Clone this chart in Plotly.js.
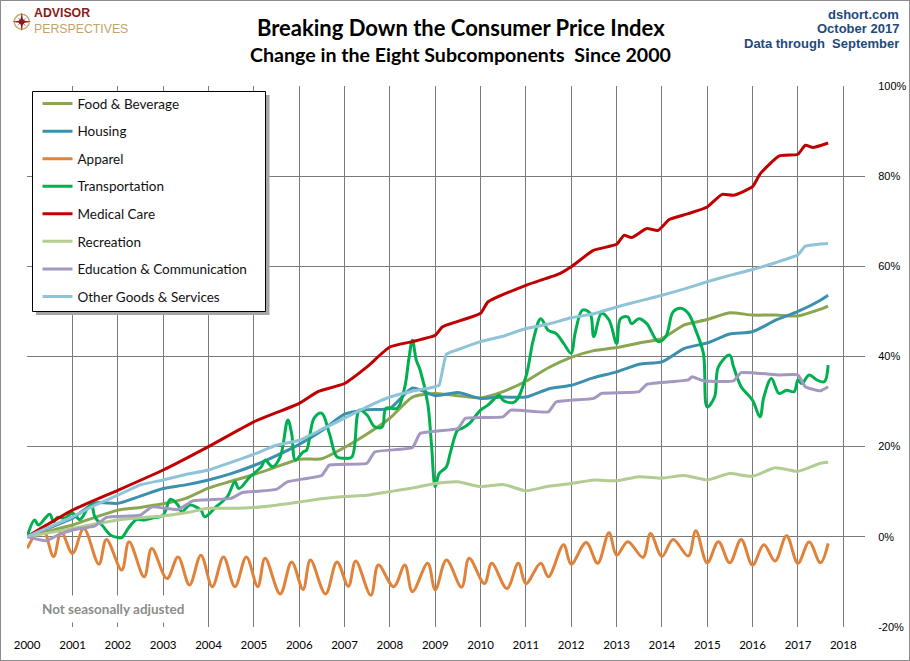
<!DOCTYPE html>
<html><head><meta charset="utf-8">
<script src="https://cdn.plot.ly/plotly-3.0.1.min.js"></script>
<style>
html,body{margin:0;padding:0;background:#fff;}
#chart{width:910px;height:661px;}
#frame{position:absolute;left:0;top:0;width:910px;height:661px;box-sizing:border-box;border:1px solid #8c8c8c;pointer-events:none;}
</style>
</head><body>
<div id="chart"></div><div id="frame"></div>
<script>
// ---------------- DATA ----------------
// month index: 0 = Jan 2000, 212 = Sep 2017 ; values = % change since 2000
const seriesNames = ['Food & Beverage','Housing','Apparel','Transportation','Medical Care','Recreation','Education & Communication','Other Goods & Services'];

const halfYearMonths = [0,6,12,18,24,30,36,42,48,54,60,66,72,78,84,90,96,102,108,114,120,126,132,138,144,150,156,162,168,174,180,186,192,198,204,210,212];

const foodValues = [0,1.3,2.6,4.3,5.9,6.5,7.3,8.5,10.8,12.3,13.8,15.5,17.2,17.3,19.8,22.8,26.3,31.0,31.8,31.3,30.8,32.2,34.5,37.5,39.8,41.3,42.0,43.0,44.0,47.0,48.2,49.7,49.2,49.2,49.0,50.5,51.2];

const housingValues = [0,2.0,4.1,7.5,7.4,9.0,10.7,11.5,12.6,14.0,15.8,18.0,20.5,23.5,27.2,28.2,28.5,33.0,31.3,32.0,30.7,31.0,31.0,32.8,33.6,35.3,36.6,38.3,38.8,41.8,43.0,45.0,45.5,48.0,50.0,52.5,53.6];

const apparelMonths = [0,4,7,9,12,15,19,21,25,27,31,33,37,40,43,46,49,52,55,58,61,63,67,70,73,75,79,82,85,87,91,93,97,100,102,106,108,111,115,117,121,123,127,130,132,136,138,142,144,148,151,154,156,159,163,165,168,171,175,177,180,183,186,189,192,195,198,201,204,207,210,212];
const apparelValues = [-2.6,2.0,-4.4,1.1,-3.7,1.8,-6.1,-0.6,-7.4,-1.1,-8.9,-2.6,-9.3,-4.5,-10.7,-4.1,-11.1,-4.5,-11.1,-4.5,-11.1,-4.8,-12.7,-5.6,-11.7,-5.2,-12.7,-5.6,-11.0,-5.4,-13.0,-6.3,-11.1,-6.3,-12.2,-5.9,-11.8,-5.2,-11.2,-4.8,-10.4,-5.9,-11.5,-5.9,-10.4,-5.9,-8.9,-1.8,-6.1,-1.3,-5.9,0.9,-4.1,-1.1,-4.6,0.7,-4.4,-0.6,-4.3,1.3,-5.8,-1.1,-5.8,-0.6,-6.3,-1.8,-5.4,0.2,-5.9,-1.2,-5.8,-1.5];

const transportMonths = [0,2,3,6,7,8,10,12,14,16,17,18,20,22,24,25,27,29,31,33,36,38,40,41,43,46,47,50,53,55,56,59,62,63,65,67,69,70,71,73,74,76,78,80,82,84,86,88,90,92,94,95,98,100,101,102,103,104,106,107,108,109,111,112,114,115,117,120,122,125,126,129,132,134,136,138,140,142,144,145,147,149,150,152,154,156,157,159,160,162,164,167,169,171,173,175,177,179,180,182,183,186,187,189,192,194,195,197,199,201,203,204,205,207,209,211,212];
const transportValues = [0,3.7,2.6,5.0,3.3,4.3,4.1,5.2,3.8,6.3,7.2,4.3,2.4,0.4,-0.2,-0.2,2.1,3.8,3.7,4.1,4.8,8.3,7.0,5.5,7.0,5.9,4.4,6.6,8.9,12.2,10.7,13.3,15.5,17.0,15.5,17.7,25.9,22.9,17.0,18.8,19.2,26.3,27.4,22.9,17.7,17.4,17.7,28.1,27.0,24.4,24.4,28.5,28.5,33.3,39.2,43.6,39.2,37.0,29.6,20.7,11.1,14.0,15.5,18.5,23.7,24.0,25.1,28.1,29.2,31.4,30.3,29.9,35.5,43.6,48.4,45.8,45.1,42.9,40.7,45.1,50.3,49.6,44.4,49.6,48.1,42.9,48.4,48.8,47.3,48.4,47.3,43.3,44.4,49.9,50.7,49.6,45.8,40.7,28.8,31.0,37.7,40.3,37.7,33.3,30.3,26.6,31.0,35.1,31.8,32.5,32.2,34.8,34.0,35.9,34.8,34.4,38.1];

const medicalMonths = [0,12,24,36,48,60,72,77,84,90,96,102,108,110,120,122,132,141,144,150,156,158,160,164,167,170,175,180,184,187,192,194,199,204,206,208,212];
const medicalValues = [0,5.9,10.3,14.8,20.0,25.5,29.6,32.2,34.0,37.7,42.1,43.3,44.7,46.6,49.6,52.1,55.8,58.4,59.9,63.6,64.9,66.9,66.4,68.4,68.0,70.4,71.7,73.2,76.0,75.8,77.7,80.5,84.5,84.9,86.9,86.4,87.4];

const recreationValues = [0,0.9,1.8,2.8,3.7,4.2,4.6,5.3,6.3,6.3,6.5,7.0,7.7,8.4,8.9,9.2,10.0,10.8,11.8,12.2,11.1,11.6,10.2,11.2,11.8,12.6,12.4,13.3,13.0,13.6,12.6,14.0,13.4,15.3,14.5,16.3,16.5];

const educationMonths = [0,5,8,12,18,21,30,33,40,44,54,57,66,69,78,80,90,92,102,104,114,116,126,128,138,140,150,152,162,164,175,176,179,187,189,199,204,206,210,212];
const educationValues = [0,-0.9,0.3,1.5,2.4,4.3,4.8,6.6,6.0,8.0,8.5,9.8,10.5,12.2,13.6,15.9,16.3,18.8,19.8,22.9,24.0,26.3,26.6,28.1,27.7,29.9,30.7,31.8,32.2,33.8,34.8,35.5,34.6,34.6,36.4,35.9,35.9,33.3,32.4,33.3];

const otherMonths = [0,6,12,18,24,30,36,42,48,54,60,66,72,78,84,90,96,102,108,109,111,114,120,126,132,138,144,150,156,162,168,174,180,186,192,198,204,206,210,212];
const otherValues = [0,2.2,4.4,7.0,9.2,11.5,12.6,13.8,14.8,16.5,18.3,20.3,21.4,23.8,26.3,28.8,31.0,32.3,33.3,33.6,40.5,41.5,43.3,44.5,46.2,47.2,48.6,49.5,51.0,52.3,53.6,55.0,56.6,58.0,59.3,60.8,62.6,64.5,65.0,65.1];

const yearLabels = ['2000','2001','2002','2003','2004','2005','2006','2007','2008','2009','2010','2011','2012','2013','2014','2015','2016','2017','2018'];
const yTickValues = [-20,0,20,40,60,80,100];
const yTickLabels = ['-20%','0%','20%','40%','60%','80%','100%'];

// ---------------- helpers ----------------
function mdate(m){const y=2000+Math.floor(m/12), mo=m%12+1; return y+'-'+(mo<10?'0':'')+mo+'-01';}
const L=27, R=45, T=86, B=34, W=910, H=661;
const PW=W-L-R, PH=H-T-B;
const px=(x)=> (x-L)/PW;
const py=(y)=> (H-B-y)/PH;

const colors = ['#8BA650','#3C90AE','#E1823A','#00B050','#C00000','#B2CC92','#A497C0','#8FC3D7'];
const monthSets = [halfYearMonths, halfYearMonths, apparelMonths, transportMonths, medicalMonths, halfYearMonths, educationMonths, otherMonths];
const valueSets = [foodValues, housingValues, apparelValues, transportValues, medicalValues, recreationValues, educationValues, otherValues];
const smooth = [0.6,0.6,1.0,1.0,0.5,0.6,0.4,0.4];

const traces = seriesNames.map((n,i)=>({
  type:'scatter', mode:'lines', name:n, legendgroup:n,
  x: monthSets[i].map(mdate), y: valueSets[i],
  line:{color:colors[i], width:3, shape:'spline', smoothing:smooth[i]},
  hoverinfo:'x+y+name'
}));

const logoSvg = '<svg xmlns="http://www.w3.org/2000/svg" width="60" height="60" viewBox="0 0 60 60">'+
 '<circle cx="30" cy="30" r="22" fill="none" stroke="#C8A96A" stroke-width="4"/>'+
 '<path d="M30 2 L34 26 L58 30 L34 34 L30 58 L26 34 L2 30 L26 26 Z" fill="#8B1A1A"/>'+
 '<path d="M30 30 L44 16 L33 31 Z M30 30 L44 44 L29 33 Z M30 30 L16 44 L27 29 Z M30 30 L16 16 L31 27 Z" fill="#8B1A1A"/>'+
 '<circle cx="30" cy="30" r="8" fill="#8B1A1A"/></svg>';

const layout = {
  width:W, height:H,
  margin:{l:L, r:R, t:T, b:B, pad:0},
  paper_bgcolor:'#ffffff', plot_bgcolor:'#ffffff',
  showlegend:true,
  legend:{x:px(37.5), y:py(88.3), xanchor:'left', yanchor:'top', bgcolor:'rgba(0,0,0,0)',
    bordercolor:'rgba(0,0,0,0)', borderwidth:0, tracegroupgap:7, itemwidth:30,
    font:{family:'Lato, sans-serif', size:13.5, color:'#111'}},
  xaxis:{type:'date', range:['1999-12-31','2018-06-25'],
    tickvals: yearLabels.map(y=>y+'-01-01'), ticktext: yearLabels,
    showgrid:true, gridcolor:'#7a7a7a', gridwidth:1, zeroline:false, showline:false,
    ticks:'outside', ticklen:7, tickcolor:'rgba(0,0,0,0)',
    tickfont:{family:'Lato, sans-serif', size:11.5, color:'#000'}},
  yaxis:{side:'right', range:[-20.05,100.05], tickvals:yTickValues, ticktext:yTickLabels,
    showgrid:true, gridcolor:'#7a7a7a', gridwidth:1, zeroline:false, showline:false,
    ticks:'outside', ticklen:10, tickcolor:'rgba(0,0,0,0)',
    tickfont:{family:'Liberation Sans, Arial, sans-serif', size:11, color:'#000'}},
  title:{text:'<b>Breaking Down the Consumer Price Index</b>', xref:'container', yref:'container',
    x:460.8/W, xanchor:'center', y:1-28.5/H, yanchor:'middle',
    font:{family:'Lato, sans-serif', size:22, color:'#000'}},
  annotations:[
    {text:'<b>Change in the Eight Subcomponents\u00a0 Since 2000</b>', xref:'paper', yref:'paper', x:px(460.8), y:py(55), xanchor:'center', yanchor:'middle', showarrow:false,
     font:{family:'Lato, sans-serif', size:19.6, color:'#000'}},
    {text:'<b>dshort.com</b>', xref:'paper', yref:'paper', x:px(901), y:py(14), xanchor:'right', yanchor:'middle', showarrow:false,
     font:{family:'Liberation Sans, Arial, sans-serif', size:13, color:'#1F497D'}},
    {text:'<b>October 2017</b>', xref:'paper', yref:'paper', x:px(901), y:py(28.5), xanchor:'right', yanchor:'middle', showarrow:false,
     font:{family:'Liberation Sans, Arial, sans-serif', size:13, color:'#1F497D'}},
    {text:'<b>Data through\u00a0 September</b>', xref:'paper', yref:'paper', x:px(901), y:py(43.3), xanchor:'right', yanchor:'middle', showarrow:false,
     font:{family:'Liberation Sans, Arial, sans-serif', size:13, color:'#1F497D'}},
    {text:'<span style="color:#8B1A1A;font-weight:bold">ADVISOR</span><br><span style="color:#C3A466">PERSPECTIVES</span>', xref:'paper', yref:'paper', x:px(32.5), y:py(21.5), xanchor:'left', yanchor:'middle', align:'left', showarrow:false, borderpad:0,
     font:{family:'Liberation Sans, Arial, sans-serif', size:12.3, color:'#8B1A1A'}},
    {text:'<b>Not seasonally adjusted</b>', xref:'paper', yref:'paper', x:px(36), y:py(608.5), xanchor:'left', yanchor:'middle', showarrow:false,
     bgcolor:'#ffffff', borderpad:5,
     font:{family:'Lato, sans-serif', size:13.5, color:'#8C8C8C'}}
  ],
  shapes:[
    {type:'rect', xref:'paper', yref:'paper', x0:px(36), x1:px(269.5), y0:py(95), y1:py(315), fillcolor:'#a6a6a6', line:{width:0}, layer:'above'},
    {type:'rect', xref:'paper', yref:'paper', x0:px(32.5), x1:px(265.5), y0:py(91.5), y1:py(311.5), fillcolor:'#ffffff', line:{width:1, color:'#000000'}, layer:'above'}
  ],
  images:[
    {source:'data:image/svg+xml;base64,'+btoa(logoSvg), xref:'paper', yref:'paper', x:px(11.5), y:py(11.5), sizex:20.5/PW, sizey:20.5/PH, xanchor:'left', yanchor:'top', sizing:'stretch', layer:'above'}
  ]
};

Plotly.newPlot('chart', traces, layout, {displayModeBar:false, staticPlot:true});
</script>
</body></html>
